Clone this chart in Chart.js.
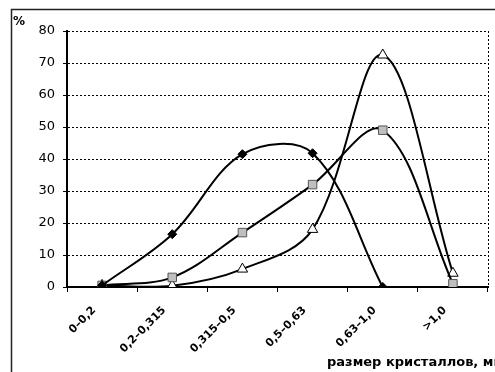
<!DOCTYPE html>
<html>
<head>
<meta charset="utf-8">
<script src="https://cdn.jsdelivr.net/npm/chart.js@4.4.0/dist/chart.umd.min.js"></script>
<style>
  body { margin: 0; background: #fff; }
  #wrap { width: 495px; height: 372px; }
</style>
</head>
<body>
<div id="wrap"><canvas id="crystalChart" width="495" height="372"></canvas></div>
<script>
const categories = ['0–0,2', '0,2–0,315', '0,315–0,5', '0,5–0,63', '0,63–1,0', '>1,0'];
const seriesDiamond = [0.5, 16.5, 41.5, 41.8, 0, null];
const seriesSquare = [0.5, 3, 17, 32, 49, 1];
const seriesTriangle = [0.5, 0.4, 5.6, 18, 72.5, 4.3];
const yTicks = [0, 10, 20, 30, 40, 50, 60, 70, 80];

// frame, right dotted border, labels
const decor = {
  id: 'decor',
  beforeDraw(chart) {
    const c = chart.ctx;
    c.save();
    c.fillStyle = '#fff';
    c.fillRect(0, 0, chart.width, chart.height);
    c.restore();
  },
  afterDraw(chart) {
    const c = chart.ctx;
    const a = chart.chartArea;
    c.save();
    c.strokeStyle = '#222';
    c.lineWidth = 1.5;
    c.strokeRect(11.5, 9.5, 600, 600);
    c.strokeStyle = '#000';
    c.lineWidth = 1;
    c.setLineDash([2, 2]);
    c.beginPath();
    c.moveTo(Math.round(a.right) + 0.5, a.top);
    c.lineTo(Math.round(a.right) + 0.5, a.bottom);
    c.stroke();
    c.setLineDash([]);
    c.fillStyle = '#000';
    c.font = 'bold 12px "DejaVu Sans"';
    c.textBaseline = 'alphabetic';
    c.fillText('%', 13, 25);
    c.font = 'bold 13px "DejaVu Sans"';
    c.fillText('размер кристаллов, мм', 327, 366);
    c.restore();
  }
};

const lineStyle = { borderColor: '#000', borderWidth: 2, tension: 0.35, capBezierPoints: false };

const ctx = document.getElementById('crystalChart').getContext('2d');
new Chart(ctx, {
  type: 'line',
  data: {
    labels: categories,
    datasets: [
      Object.assign({
        data: seriesDiamond,
        pointStyle: 'rectRot',
        pointRadius: 4.5,
        pointBackgroundColor: '#000',
        pointBorderColor: '#000',
        pointBorderWidth: 1
      }, lineStyle),
      Object.assign({
        data: seriesSquare,
        pointStyle: 'rect',
        pointRadius: 6,
        pointBackgroundColor: '#bfbfbf',
        pointBorderColor: '#555',
        pointBorderWidth: 1
      }, lineStyle),
      Object.assign({
        data: seriesTriangle,
        pointStyle: 'triangle',
        pointRadius: 6,
        pointBackgroundColor: '#fff',
        pointBorderColor: '#000',
        pointBorderWidth: 1
      }, lineStyle)
    ]
  },
  options: {
    responsive: false,
    animation: false,
    events: [],
    layout: { padding: { left: 0, top: 31, right: 7, bottom: 0 } },
    plugins: { legend: { display: false }, tooltip: { enabled: false } },
    scales: {
      x: {
        offset: true,
        afterFit: s => { s.height = 85; },
        grid: { offset: true, drawOnChartArea: false, color: '#000', tickLength: 5 },
        border: { color: '#000', width: 2 },
        ticks: {
          color: '#000',
          font: { family: 'DejaVu Sans', size: 11, weight: 'bold' },
          maxRotation: 45,
          minRotation: 45,
          padding: 12,
          labelOffset: -8
        }
      },
      y: {
        min: 0,
        max: 80,
        afterFit: s => { s.width = 67; },
        afterBuildTicks: s => { s.ticks = yTicks.map(v => ({ value: v })); },
        grid: { color: '#000', tickLength: 4, tickBorderDash: [], lineWidth: 1 },
        border: { color: '#000', width: 2, dash: [2, 2] },
        ticks: {
          color: '#000',
          font: { family: 'DejaVu Sans', size: 13 },
          padding: 8
        }
      }
    }
  },
  plugins: [decor]
});
</script>
</body>
</html>
